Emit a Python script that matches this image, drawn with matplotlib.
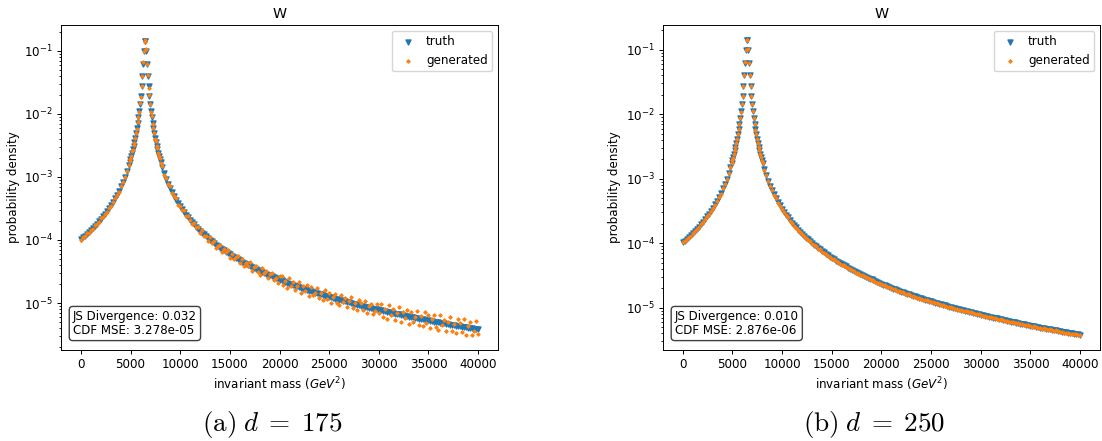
import numpy as np
import matplotlib
matplotlib.use("Agg")
import matplotlib.pyplot as plt

# bin centres (invariant mass, GeV^2): coarse tails, fine around the W peak
x_left = np.arange(0, 4801, 200)
x_peak_left = np.arange(4904, 6425, 80)
x_peak_right = np.arange(6504, 8025, 80)
x_right = np.arange(8200, 40001, 200)

# truth, log10(probability density)
truth_left = [-3.987, -3.960, -3.932, -3.903, -3.873, -3.841, -3.809, -3.775, -3.741, -3.704,
              -3.666, -3.626, -3.585, -3.541, -3.495, -3.446, -3.395, -3.340, -3.281, -3.219,
              -3.151, -3.078, -2.998, -2.910, -2.813]
truth_peak_left = [-2.757, -2.712, -2.665, -2.614, -2.561, -2.504, -2.443, -2.378, -2.308, -2.232,
                   -2.149, -2.057, -1.955, -1.842, -1.713, -1.565, -1.395, -1.202, -0.999, -0.845]
truth_peak_right = [-0.845, -0.999, -1.202, -1.395, -1.565, -1.713, -1.842, -1.955, -2.057, -2.149,
                    -2.232, -2.308, -2.378, -2.443, -2.504, -2.561, -2.614, -2.665, -2.712, -2.757]
truth_right = [-2.849, -2.943, -3.028, -3.105, -3.176, -3.242, -3.303, -3.360, -3.414, -3.464,
               -3.512, -3.557, -3.600, -3.641, -3.680, -3.717, -3.753, -3.788, -3.821, -3.853,
               -3.883, -3.913, -3.942, -3.970, -3.997, -4.023, -4.048, -4.073, -4.097, -4.121,
               -4.143, -4.165, -4.187, -4.208, -4.228, -4.249, -4.268, -4.287, -4.306, -4.325,
               -4.343, -4.360, -4.378, -4.395, -4.411, -4.428, -4.444, -4.459, -4.475, -4.490,
               -4.505, -4.520, -4.534, -4.548, -4.562, -4.576, -4.590, -4.603, -4.616, -4.629,
               -4.642, -4.654, -4.667, -4.679, -4.691, -4.703, -4.714, -4.726, -4.737, -4.749,
               -4.760, -4.771, -4.782, -4.792, -4.803, -4.813, -4.824, -4.834, -4.844, -4.854,
               -4.864, -4.873, -4.883, -4.893, -4.902, -4.911, -4.921, -4.930, -4.939, -4.948,
               -4.957, -4.965, -4.974, -4.983, -4.991, -4.999, -5.008, -5.016, -5.024, -5.032,
               -5.040, -5.048, -5.056, -5.064, -5.072, -5.079, -5.087, -5.095, -5.102, -5.109,
               -5.117, -5.124, -5.131, -5.139, -5.146, -5.153, -5.160, -5.167, -5.173, -5.180,
               -5.187, -5.194, -5.200, -5.207, -5.214, -5.220, -5.227, -5.233, -5.239, -5.246,
               -5.252, -5.258, -5.265, -5.271, -5.277, -5.283, -5.289, -5.295, -5.301, -5.307,
               -5.313, -5.318, -5.324, -5.330, -5.336, -5.341, -5.347, -5.353, -5.358, -5.364,
               -5.369, -5.375, -5.380, -5.385, -5.391, -5.396, -5.401, -5.407, -5.412, -5.417]

# generated minus truth, in units of 0.01 decade
gen_a_offset = [
    -1, 0, -1, 1, -1, 0, -2, 1, 0, -1, 1, -1, 0, -2, 1, -1, 0, 1, -1, -2, 1, 0, -1, 1, 0,
    1, -1, 0, 2, -1, 1, -2, 0, 1, -1, 2, 0, -1, 1, -2, 1, 0, 3, -1, 2,
    -1, 2, 0, 1, -2, 1, 0, -1, 2, -1, 1, 0, -2, 1, -1, 2, 0, -1, 1, -2,
    2, -2, 1, -1, 3, -2, 0, 2, -3, 1, -1, 3, -2, 2, 0, -3, 3, -1, 2, -3,
    4, -3, 1, -4, 5, -2, 3, -5, 0, 4, -4, 2, -1, 5, -5, 3, -3, 1, 5, -4,
    4, -5, 2, -2, 6, -6, 1, 5, -3, -6, 6, -1, 4, -6, 2, 6, -5, 0, -6, 5,
    7, -6, 2, -8, 8, -3, 5, -7, 1, 8, -8, 4, -2, 7, -8, 6, -5, 0, 8, -7,
    3, -8, 9, -4, 6, -9, 2, 8, -6, -9, 9, -2, 5, -8, 3, 9, -7, 1, -9, 8,
    4, -6, 9, -9, 2, 7, -8, -3, 9, -5,
    10, -9, 3, -11, 11, -4, 7, -10, 2, 11, -11, 5, -3, 10, -12, 8, -7, 1, 12, -10,
    4, -11, 12, -5, 8, -12, 3, 11, -8, -12, 12, -3, 6, -11, 4, 12, -9, 2, -12, 11,
    5, -8, 13, -12, 3, 10, -11, -4, 13, -7]
gen_b_offset = [
    0, -1, 0, 0, -1, 0, 0, -1, 0, 0, -1, 0, 0, -1, 0, 0, -1, 0, 0, -1, 0, 0, -1, 0, 0,
    0, 0, -1, 0, 0, 0, -1, 0, 0, 1, 0, 0, -1, 0, 0, 0, 0, 1, 0, 0,
    0, 1, 0, 0, 0, -1, 0, 0, 0, 0, -1, 0, 0, 0, -1, 0, 0, 0, -1, 0,
    -1, 0, -1, -1, 0, -1, 0, -1, -1, 0, -1, -1, 0, -1, 0, -1, -1, 0, -1, -1,
    0, -1, -1, 0, -1, -1, 0, -1, 0, -1, -1, 0, -1, -1, -1, 0, -1, 0, -1, -1,
    0, -1, -1, 0, -1, -1, -1, 0, -1, 0, -1, -1, 0, -1, -1, 0, -1, -1, 0, -1,
    -1, 0, -1, 0, -1, -1, 0, -1, -1, -1, 0, -1, -1, 0, -1, 0, -1, -1, 0, -1,
    -1, -1, 0, -1, -1, 0, -1, 0, -1, -1, 0, -1, -1, -1, 0, -1, -1, 0, -1, 0,
    -1, -1, 0, -1, 0, -1, -1, -1, 0, -1, -1, 0, -1, -1, 0, -1, 0, -1, -1, 0,
    -1, -1, 0, -1, -1, 0, -1, -1, 0, -1, 0, -1, -1, 0, -1, -1, 0, -1, -1, 0,
    -1, 0, -1, -1, 0, -1, -1, 0, -1, -1, 0, -1, -1, 0, -1, -1, -1, 0, -1, -1]

panels = [
    {"offset": gen_a_offset, "js": "0.032", "mse": "3.278e-05", "caption": r"$\mathrm{(a)}\;d\;=\;175$"},
    {"offset": gen_b_offset, "js": "0.010", "mse": "2.876e-06", "caption": r"$\mathrm{(b)}\;d\;=\;250$"},
]

x = np.concatenate([x_left, x_peak_left, x_peak_right, x_right])
truth = 10 ** np.array(truth_left + truth_peak_left + truth_peak_right + truth_right)

fs = 8.6
fig = plt.figure(figsize=(11.02, 4.41), dpi=100)
lefts = [0.0554, 0.6016]
for left, p in zip(lefts, panels):
    ax = fig.add_axes([left, 0.2063, 0.3965, 0.737])
    gen = truth * 10 ** (np.array(p["offset"]) / 100.0)
    ax.scatter(x, truth, marker='v', s=13, label='truth')
    ax.scatter(x, gen, marker='D', s=2.5, label='generated')
    ax.set_yscale('log')
    ax.set_title('W', fontsize=10.3, pad=5)
    ax.set_xlabel('invariant mass ($GeV^2$)', fontsize=fs, labelpad=3)
    ax.set_ylabel('probability density', fontsize=fs, labelpad=3)
    ax.tick_params(labelsize=fs, length=3, width=0.7, pad=3)
    ax.tick_params(which='minor', length=1.7, width=0.6)
    for s in ax.spines.values():
        s.set_linewidth(0.7)
    ax.legend(loc='upper right', fontsize=fs, borderpad=0.35, handletextpad=0.5)
    ax.text(0.027, 0.04, f"JS Divergence: {p['js']}\nCDF MSE: {p['mse']}",
            transform=ax.transAxes, fontsize=fs, va='bottom', ha='left', linespacing=1.1,
            bbox=dict(boxstyle='round,pad=0.3', facecolor='white', edgecolor='0.25'))
    fig.text(left + 0.3965 / 2 - 0.007, 1 - 424 / 441, p["caption"], fontsize=19.5,
             ha='center', va='center', math_fontfamily='cm')

fig.savefig('out.png', dpi=100)
